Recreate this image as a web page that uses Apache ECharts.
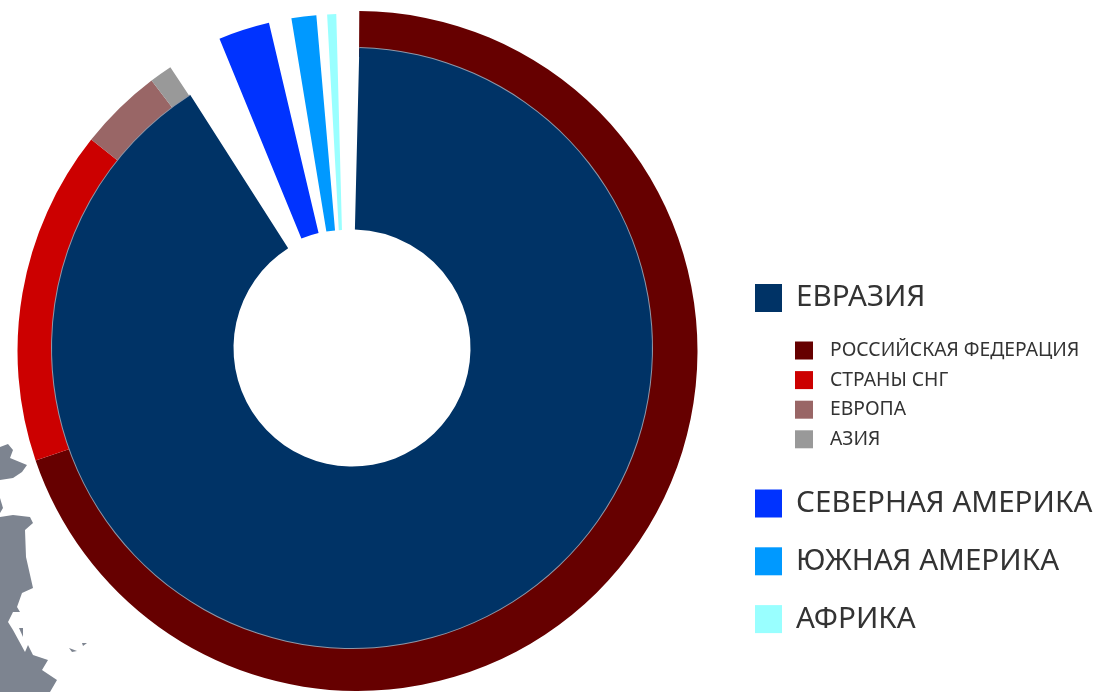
<!DOCTYPE html>
<html><head><meta charset="utf-8">
<style>html,body{margin:0;padding:0;background:#fff}#c{width:1097px;height:692px}</style>
<script src="https://cdn.jsdelivr.net/npm/echarts@6/dist/echarts.min.js"></script>
</head><body><div id="c"></div>
<script>
// shares of the full circle, percent
const mainNames = ['ЕВРАЗИЯ'];
const mainValues = [90.56];
const ringNames = ['РОССИЙСКАЯ ФЕДЕРАЦИЯ', 'СТРАНЫ СНГ', 'ЕВРОПА', 'АЗИЯ'];
const ringValues = [69.7, 15.9, 3.96, 1.08];
const otherNames = ['АФРИКА', 'ЮЖНАЯ АМЕРИКА', 'СЕВЕРНАЯ АМЕРИКА'];
const otherValues = [0.44, 1.21, 2.5];
const otherGaps = [0.42, 0.52, 1.1];

const colors = {
  'ЕВРАЗИЯ': '#003366', 'РОССИЙСКАЯ ФЕДЕРАЦИЯ': '#660000', 'СТРАНЫ СНГ': '#cc0000',
  'ЕВРОПА': '#996666', 'АЗИЯ': '#999999', 'СЕВЕРНАЯ АМЕРИКА': '#0033ff',
  'ЮЖНАЯ АМЕРИКА': '#0099ff', 'АФРИКА': '#99ffff'
};
const item = (name, value) => ({ name, value, itemStyle: { color: colors[name] } });
const gap = value => ({ name: '', value, itemStyle: { color: 'transparent' } });
const sum = a => a.reduce((s, v) => s + v, 0);

const otherData = [];
otherNames.forEach((n, i) => { otherData.push(gap(otherGaps[i]), item(n, otherValues[i])); });
otherData.push(gap(100 - sum(otherValues) - sum(otherGaps)));

const base = { type: 'pie', animation: false, silent: true, label: { show: false }, labelLine: { show: false } };
const land = [
  [[0,447],[8,444],[13,450],[10,458],[27,465],[22,472],[13,478],[0,480]],
  [[0,498],[3,508],[0,513]],
  [[0,517],[13,515],[30,517],[33,523],[25,530],[26,557],[33,588],[22,593],[17,607],[20,612],[13,612],[8,622],[13,630],[25,652],[28,645],[33,655],[48,660],[42,670],[57,680],[50,692],[0,692]],
  [[19,628],[23,628],[23,637]],
  [[69,648],[77,651],[72,652]],
  [[82,643],[87,643],[83,646]]
];
const legendBase = { orient: 'vertical', selectedMode: false, icon: 'rect', itemWidth: 27, itemHeight: 28, padding: 0 };
const bigText = { color: '#333', fontFamily: 'Noto Sans', fontSize: 29.6, padding: [0, 0, 0, 9] };
const smallText = { color: '#333', fontFamily: 'Noto Sans', fontSize: 19.3, padding: [0, 0, 0, 12] };

echarts.init(document.getElementById('c'), null, { renderer: 'canvas' }).setOption({
  animation: false,
  backgroundColor: '#fff',
  graphic: land.map(points => ({ type: 'polygon', shape: { points }, style: { fill: '#7d8490' }, silent: true, z: 0 })),
  legend: [
    { ...legendBase, left: 755, top: 283, data: mainNames, textStyle: bigText },
    { ...legendBase, left: 795, top: 341, itemWidth: 18, itemHeight: 18, itemGap: 10.6, data: ringNames, textStyle: smallText },
    { ...legendBase, left: 755, top: 488.5, itemGap: 27.8, data: otherNames.slice().reverse(), textStyle: bigText }
  ],
  series: [
    { ...base, z: 1, center: [357.5, 351], radius: [294, 340], startAngle: 89.7,
      data: ringNames.map((n, i) => item(n, ringValues[i])).concat(gap(100 - sum(ringValues))) },
    { ...base, z: 2, center: [352, 348], radius: [299, 301], startAngle: 88.6,
      data: [{ name: '', value: mainValues[0], itemStyle: { color: '#8e97a8' } }, gap(100 - mainValues[0])] },
    { ...base, z: 3, center: [352, 348], radius: [118.5, 300], startAngle: 88.6,
      data: [item(mainNames[0], mainValues[0]), gap(100 - mainValues[0])] },
    { ...base, z: 3, center: [345, 345], radius: [115, 331], startAngle: 90, clockwise: false, data: otherData }
  ]
});
</script></body></html>
